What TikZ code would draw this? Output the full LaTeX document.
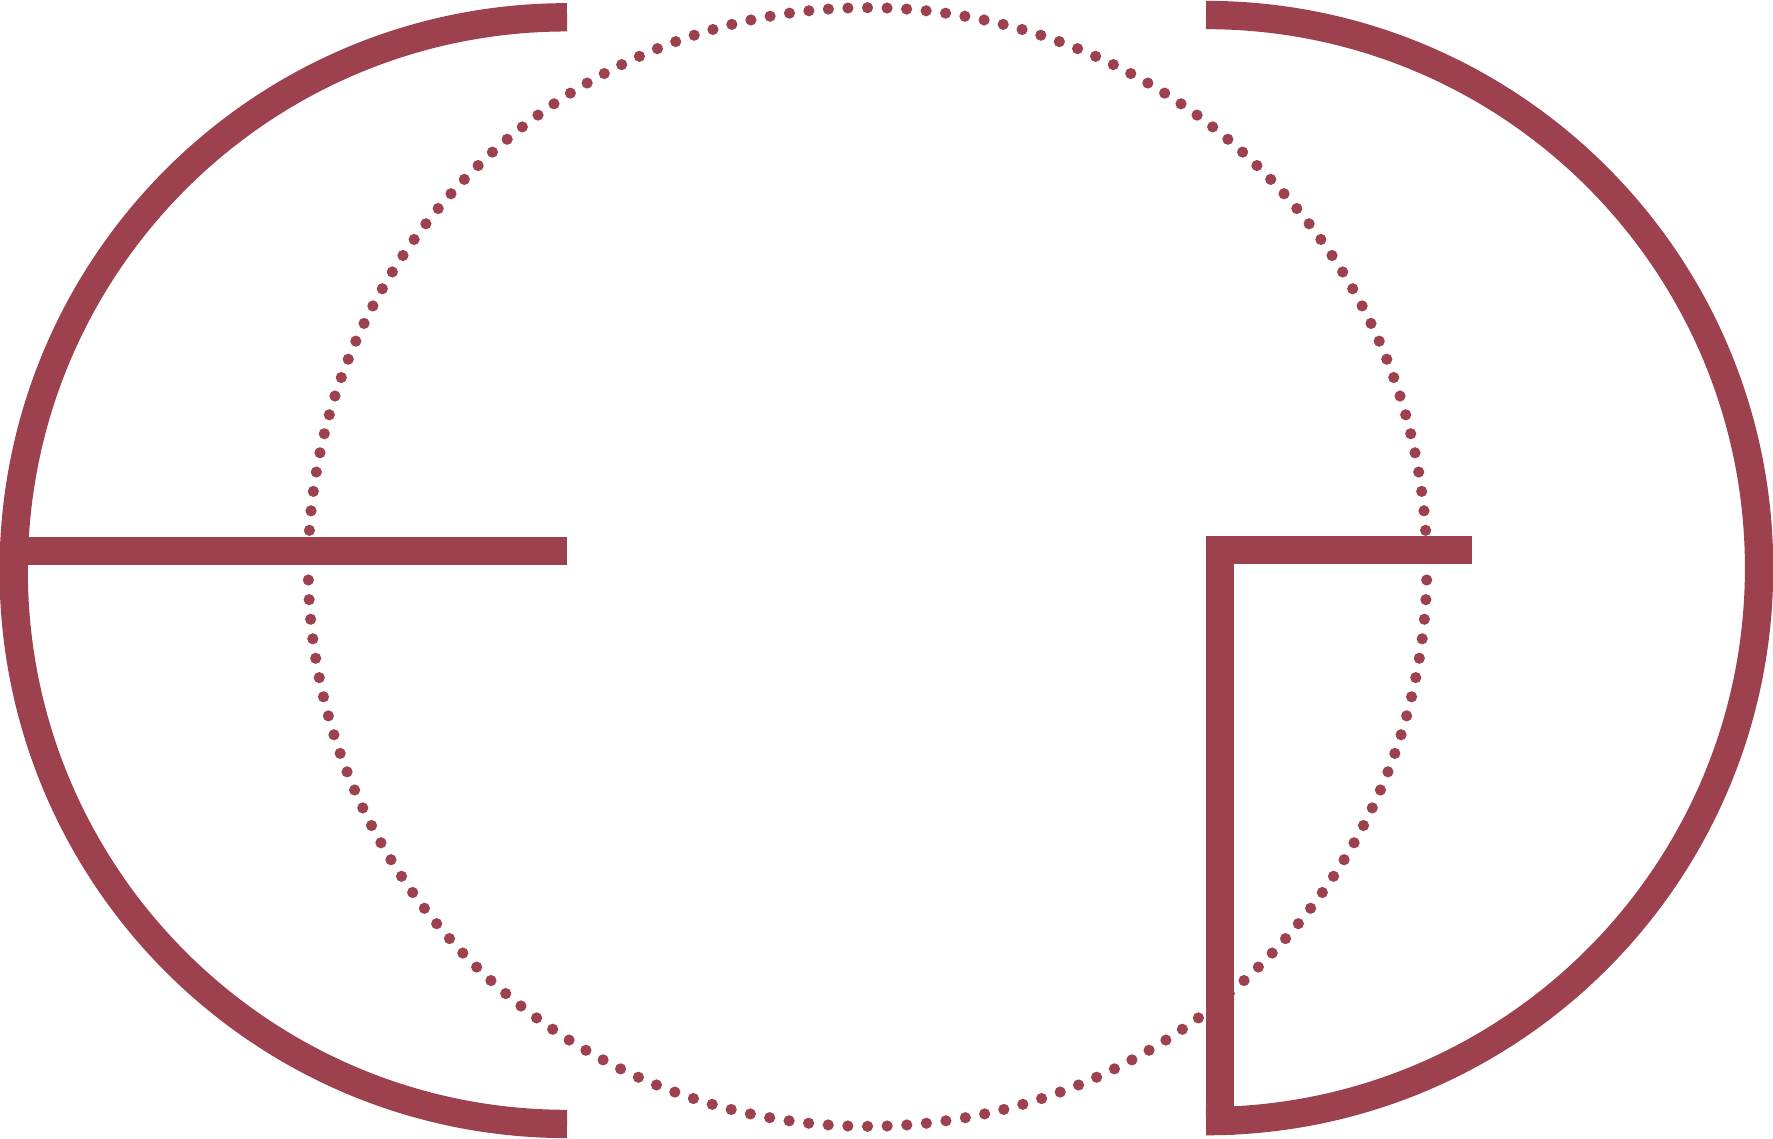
\documentclass[tikz,border=0pt]{standalone}
\definecolor{wine}{RGB}{157,65,78}
\begin{document}
\begin{tikzpicture}[x=0.01cm,y=0.01cm,
  bar/.style={draw=wine,line width=0.283cm,line join=miter},
  dotmark/.style={fill=wine}]
\useasboundingbox (0,0) rectangle (1773,1138);
\coordinate (c) at (867.5,571);
\foreach \i in {0,...,86} \fill[dotmark] (c) ++({176.24-\i*2.00558}:5.59cm) circle[radius=0.056cm];
\foreach \i in {0,...,88} \fill[dotmark] (c) ++({181.33+\i*2.01523}:5.59cm) circle[radius=0.056cm];
\coordinate (lt) at (567,1120.7);
\coordinate (lb1) at (15,587.2);
\coordinate (lb2) at (567,587.2);
\draw[bar] (lt) arc[start angle=90,end angle=270,radius=5.53cm];
\draw[bar] (lb1) -- (lb2);
\coordinate (rt) at (1206,1123);
\coordinate (rb1) at (1472,588);
\coordinate (rb2) at (1220,588);
\coordinate (rb3) at (1220,3);
\draw[bar] (rt) arc[start angle=90,end angle=-90,radius=5.5275cm];
\draw[bar] (rb1) -- (rb2) -- (rb3);
\end{tikzpicture}
\end{document}
